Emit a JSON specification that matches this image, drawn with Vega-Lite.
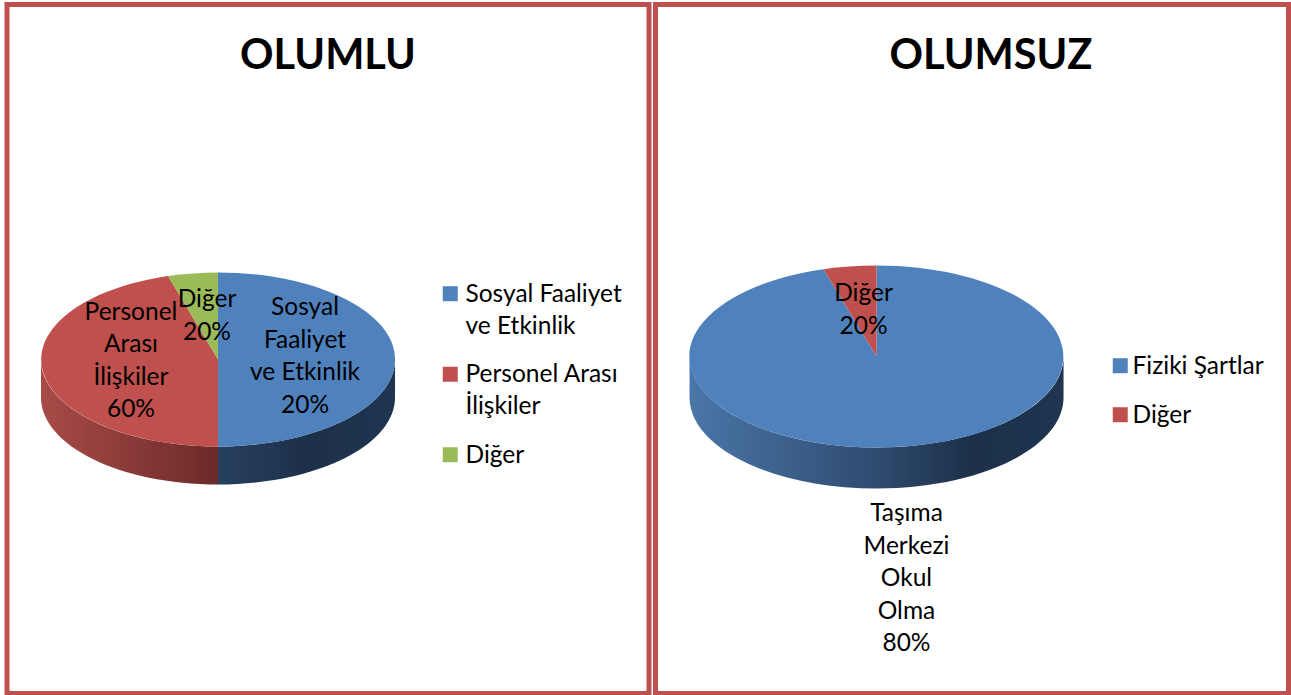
{"$schema":"https://vega.github.io/schema/vega-lite/v6.json","background":"white","padding":{"left":4,"top":1.5,"right":0,"bottom":0},"spacing":0.5,
"config":{"view":{"stroke":"#c0504d","strokeWidth":5,"fill":"white"},"style":{"guide-label":{"lineHeight":32}},"text":{"lineBreak":"\n","font":"Lato","fontSize":24.5,"lineHeight":32.5,"color":"#000000","baseline":"middle","align":"center"},"point":{"filled":true,"opacity":1,"size":4,"strokeWidth":0}},
"datasets":{
"olumlu":[{"dilim":"Sosyal Faaliyet ve Etkinlik","yuzde":20,"etiket":"Sosyal\nFaaliyet\nve Etkinlik\n20%"},{"dilim":"Personel Arası İlişkiler","yuzde":60,"etiket":"Personel\nArası\nİlişkiler\n60%"},{"dilim":"Diğer","yuzde":20,"etiket":"Diğer\n20%"}],
"olumsuz":[{"dilim":"Fiziki Şartlar","yuzde":80,"etiket":"Taşıma\nMerkezi\nOkul\nOlma\n80%"},{"dilim":"Diğer","yuzde":20,"etiket":"Diğer\n20%"}]},
"hconcat":[
{"width":642,"height":689,"data":{"name":"olumlu"},
"title":{"text":"OLUMLU","font":"Lato","fontSize":41.5,"fontWeight":"bold","color":"#000000","anchor":"middle","offset":0,"dy":106,"baseline":"alphabetic"},
"encoding":{"x":{"datum":32.87,"type":"quantitative","scale":{"domain":[0,100]},"axis":null},"y":{"datum":51.52,"type":"quantitative","scale":{"domain":[100,0]},"axis":null}},
"layer":[
{"transform":[{"filter":"datum.dilim==='Sosyal Faaliyet ve Etkinlik'"}],"mark":{"type":"point","shape":"M177,0A177,87 0 0 1 0,87L0,125A177,87 0 0 0 177,38Z","color":{"gradient":"linear","x1":0,"y1":0,"x2":1,"y2":0,"stops":[{"offset":0,"color":"#27405f"},{"offset":0.5,"color":"#1d3049"},{"offset":1,"color":"#1f3550"}]}}},
{"transform":[{"filter":"datum.dilim==='Personel Arası İlişkiler'"}],"mark":{"type":"point","shape":"M0,87A177,87 0 0 1 -177,0L-177,38A177,87 0 0 0 0,125Z","color":{"gradient":"linear","x1":0,"y1":0,"x2":1,"y2":0,"stops":[{"offset":0,"color":"#a84b48"},{"offset":1,"color":"#6c2a28"}]}}},
{"encoding":{"color":{"field":"dilim","type":"nominal","scale":{"domain":["Sosyal Faaliyet ve Etkinlik","Personel Arası İlişkiler","Diğer"],"range":["#4f81bd","#c0504d","#9bbb59"]},
"legend":{"title":null,"orient":"none","legendX":431,"legendY":285,"symbolType":"M-1,-2.07L1,-2.07L1,-0.07L-1,-0.07Z","symbolSize":225,"symbolStrokeWidth":0,"labelFont":"Lato","labelFontSize":24.5,"labelColor":"#000000","labelBaseline":"alphabetic","labelOffset":3,"labelLimit":300,"rowPadding":23.5,"labelExpr":"datum.label==='Sosyal Faaliyet ve Etkinlik'?['Sosyal Faaliyet','ve Etkinlik']:datum.label==='Personel Arası İlişkiler'?['Personel Arası','İlişkiler']:datum.label"}}},
"layer":[
{"transform":[{"filter":"datum.dilim==='Sosyal Faaliyet ve Etkinlik'"}],"mark":{"type":"point","shape":"M0,0L0,-87A177,87 0 0 1 0,87Z"}},
{"transform":[{"filter":"datum.dilim==='Personel Arası İlişkiler'"}],"mark":{"type":"point","shape":"M0,0L0,87A177,87 0 0 1 -50,-83.4Z"}},
{"transform":[{"filter":"datum.dilim==='Diğer'"}],"mark":{"type":"point","shape":"M0,0L-50,-83.4A177,87 0 0 1 0,-87Z"}}
]},
{"transform":[{"filter":"datum.dilim==='Sosyal Faaliyet ve Etkinlik'"}],"mark":{"type":"text"},
"encoding":{"text":{"field":"etiket"},"x":{"datum":46.42,"type":"quantitative"},"y":{"datum":44.1,"type":"quantitative"}}},
{"transform":[{"filter":"datum.dilim==='Personel Arası İlişkiler'"}],"mark":{"type":"text"},
"encoding":{"text":{"field":"etiket"},"x":{"datum":19.31,"type":"quantitative"},"y":{"datum":44.75,"type":"quantitative"}}},
{"transform":[{"filter":"datum.dilim==='Diğer'"}],"mark":{"type":"text"},
"encoding":{"text":{"field":"etiket"},"x":{"datum":31.15,"type":"quantitative"},"y":{"datum":42.95,"type":"quantitative"}}}
]},
{"width":633,"height":689,"data":{"name":"olumsuz"},
"title":{"text":"OLUMSUZ","font":"Lato","fontSize":41.5,"fontWeight":"bold","color":"#000000","anchor":"middle","dx":19,"offset":0,"dy":106,"baseline":"alphabetic"},
"encoding":{"x":{"datum":34.92,"type":"quantitative","scale":{"domain":[0,100]},"axis":null},"y":{"datum":51.09,"type":"quantitative","scale":{"domain":[100,0]},"axis":null}},
"layer":[
{"transform":[{"filter":"datum.dilim==='Fiziki Şartlar'"}],"mark":{"type":"point","shape":"M187,0A187,91 0 0 1 -187,0L-187,41A187,91 0 0 0 187,41Z","color":{"gradient":"linear","x1":0,"y1":0,"x2":1,"y2":0,"stops":[{"offset":0,"color":"#4a76a8"},{"offset":0.5,"color":"#2f4b70"},{"offset":0.75,"color":"#1c3049"},{"offset":1,"color":"#1f3550"}]}}},
{"encoding":{"color":{"field":"dilim","type":"nominal","scale":{"domain":["Fiziki Şartlar","Diğer"],"range":["#4f81bd","#c0504d"]},
"legend":{"title":null,"orient":"none","legendX":452.5,"legendY":357,"symbolType":"M-1,-2.07L1,-2.07L1,-0.07L-1,-0.07Z","symbolSize":225,"symbolStrokeWidth":0,"labelFont":"Lato","labelFontSize":24.5,"labelColor":"#000000","labelBaseline":"alphabetic","labelOffset":0,"labelLimit":300,"rowPadding":24}}},
"layer":[
{"transform":[{"filter":"datum.dilim==='Fiziki Şartlar'"}],"mark":{"type":"point","shape":"M0,0L0,-91A187,91 0 1 1 -53,-87.3Z"}},
{"transform":[{"filter":"datum.dilim==='Diğer'"}],"mark":{"type":"point","shape":"M0,0L-53,-87.3A187,91 0 0 1 0,-91Z"}}
]},
{"transform":[{"filter":"datum.dilim==='Fiziki Şartlar'"}],"mark":{"type":"text"},
"encoding":{"text":{"field":"etiket"},"x":{"datum":39.65,"type":"quantitative"},"y":{"datum":74,"type":"quantitative"}}},
{"transform":[{"filter":"datum.dilim==='Diğer'"}],"mark":{"type":"text"},
"encoding":{"text":{"field":"etiket"},"x":{"datum":32.86,"type":"quantitative"},"y":{"datum":42.05,"type":"quantitative"}}}
]}
],
"resolve":{"scale":{"color":"independent"}}}
